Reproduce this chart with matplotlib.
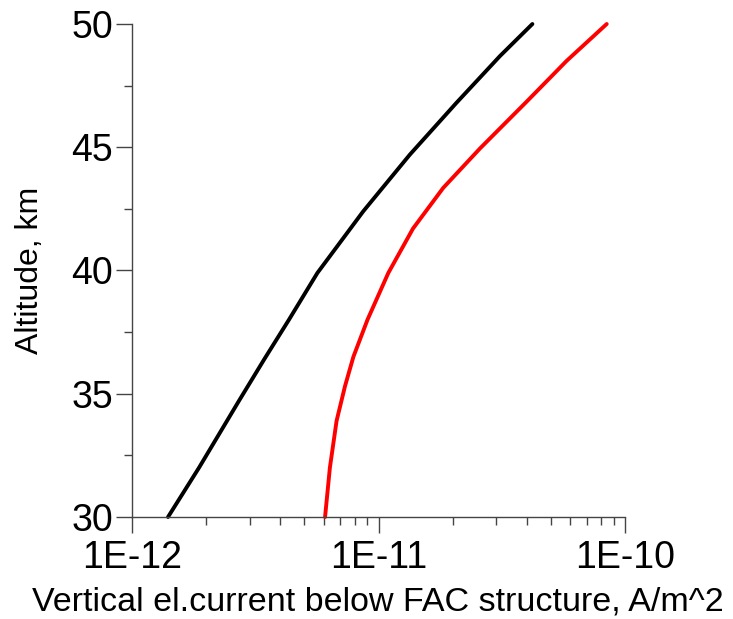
import numpy as np
import matplotlib
matplotlib.use("Agg")
import matplotlib.pyplot as plt
from matplotlib.ticker import FixedLocator, FuncFormatter, LogLocator, NullFormatter

plt.rcParams['font.family'] = ['Liberation Sans', 'DejaVu Sans']

# black curve
alt_black = [30, 32.0, 34.75, 36.4, 38.0, 39.9, 42.4, 44.7, 46.8, 48.7, 50]
cur_black = [1.40e-12, 1.87e-12, 2.73e-12, 3.44e-12, 4.33e-12, 5.65e-12,
             8.67e-12, 1.34e-11, 2.07e-11, 3.11e-11, 4.21e-11]

# red curve
alt_red = [30, 32.0, 33.9, 35.3, 36.5, 38.0, 39.9, 41.7, 43.35, 44.95, 46.85, 48.5, 50]
cur_red = [6.07e-12, 6.35e-12, 6.76e-12, 7.31e-12, 7.91e-12, 9.02e-12, 1.096e-11,
           1.38e-11, 1.83e-11, 2.58e-11, 3.99e-11, 5.79e-11, 8.43e-11]

xticks = [1e-12, 1e-11, 1e-10]
yticks = [30, 35, 40, 45, 50]

fig = plt.figure(figsize=(7.33, 6.19), dpi=100)
ax = fig.add_axes([132/733, 1-517/619, (625-132)/733, (517-24)/619])

ax.plot(cur_black, alt_black, color='black', lw=2.8, solid_capstyle='round',
        solid_joinstyle='round', clip_on=False)
ax.plot(cur_red, alt_red, color='#ff0000', lw=2.8, solid_capstyle='round',
        solid_joinstyle='round', clip_on=False)

ax.set_xscale('log')
ax.set_xlim(1e-12, 1e-10)
ax.set_ylim(30, 50)

ax.xaxis.set_major_locator(FixedLocator(xticks))
ax.xaxis.set_major_formatter(FuncFormatter(lambda v, p: '1E%d' % round(np.log10(v))))
ax.xaxis.set_minor_locator(LogLocator(base=10, subs=np.arange(2, 10)))
ax.xaxis.set_minor_formatter(NullFormatter())
ax.yaxis.set_major_locator(FixedLocator(yticks))
ax.yaxis.set_minor_locator(FixedLocator([32.5, 37.5, 42.5, 47.5]))

for s in ['top', 'right']:
    ax.spines[s].set_visible(False)
for s in ['left', 'bottom']:
    ax.spines[s].set_color('#444444')
    ax.spines[s].set_linewidth(1.0)

ax.tick_params(which='major', direction='out', length=11.5, width=1.0, color='#444444',
               labelsize=27)
ax.tick_params(axis='x', which='major', pad=5)
ax.tick_params(axis='y', which='major', pad=2)
ax.tick_params(which='minor', direction='out', length=5.8, width=1.0, color='#444444')

ax.set_xlabel('Vertical el.current below FAC structure, A/m^2', fontsize=24.5, va='center')
ax.xaxis.set_label_coords(0.499, -0.172)
ax.set_ylabel('Altitude, km', fontsize=23, va='center')
ax.yaxis.set_label_coords(-0.207, 0.5)

fig.savefig('out.png', dpi=100)
